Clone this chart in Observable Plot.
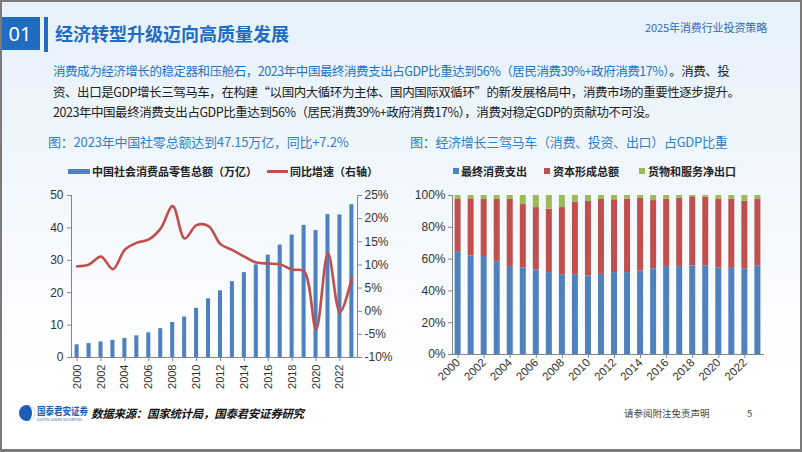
<!DOCTYPE html>
<html><head><meta charset="utf-8">
<script src="https://cdn.jsdelivr.net/npm/d3@7"></script>
<script src="https://cdn.jsdelivr.net/npm/@observablehq/plot@0.6"></script>
<style>
html,body{margin:0;padding:0;}
body{width:802px;height:452px;overflow:hidden;font-family:"Noto Sans CJK SC","Noto Sans",sans-serif;}
#slide{position:relative;width:802px;height:452px;overflow:hidden;background:linear-gradient(180deg,#e6f1fb 0%,#eef5fc 30%,#f8fbfe 60%,#ffffff 85%);}
.abs{position:absolute;white-space:nowrap;line-height:1;}
#frame{position:absolute;left:0;top:0;width:802px;height:452px;box-sizing:border-box;border:2px solid #7a7a7a;border-bottom-width:3px;pointer-events:none;}
.lg{font-size:11px;font-weight:bold;color:#222;}
.para{font-size:12.5px;color:#222;letter-spacing:-0.45px;}
#chart1,#chart2{position:absolute;}
#chart1 text,#chart2 text{font-family:"Liberation Sans",Arial,sans-serif;}
</style>
</head><body>
<div id="slide">
  <div class="abs" style="left:0;top:17px;width:40px;height:33px;background:#1f6cc1;color:#fff;font-size:20px;line-height:33px;text-align:center;font-family:'Noto Sans',sans-serif;">01</div>
  <div class="abs" style="left:44px;top:17px;width:4px;height:35px;background:#1f6cc1;"></div>
  <div class="abs" style="left:55px;top:24px;font-size:18px;font-weight:bold;color:#1f6cc1;">经济转型升级迈向高质量发展</div>
  <div class="abs" style="left:645px;top:22px;font-size:11px;color:#2f6db5;letter-spacing:-0.1px;">2025年消费行业投资策略</div>

  <div class="abs para" style="left:53px;top:65px;"><span style="color:#2274c6;">消费成为经济增长的稳定器和压舱石，2023年中国最终消费支出占GDP比重达到56%（居民消费39%+政府消费17%）</span>。消费、投</div>
  <div class="abs para" style="left:53px;top:86px;">资、出口是GDP增长三驾马车，在构建“以国内大循环为主体、国内国际双循环”的新发展格局中，消费市场的重要性逐步提升。</div>
  <div class="abs para" style="left:53px;top:106px;">2023年中国最终消费支出占GDP比重达到56%（居民消费39%+政府消费17%），消费对稳定GDP的贡献功不可没。</div>

  <div class="abs" style="left:48px;top:135px;font-size:13px;color:#2e82c9;letter-spacing:-0.2px;">图：2023年中国社零总额达到47.15万亿，同比+7.2%</div>
  <div class="abs" style="left:410px;top:135px;font-size:13px;color:#2e82c9;letter-spacing:-0.3px;">图：经济增长三驾马车（消费、投资、出口）占GDP比重</div>

  <div class="abs" style="left:68px;top:169px;width:22px;height:5px;background:#4f81bd;"></div>
  <div class="abs lg" style="left:92px;top:166px;">中国社会消费品零售总额（万亿）</div>
  <div class="abs" style="left:267px;top:170px;width:21px;height:2.5px;background:#c0504d;"></div>
  <div class="abs lg" style="left:290px;top:166px;">同比增速（右轴）</div>

  <div class="abs" style="left:453px;top:168px;width:6px;height:6px;background:#4f81bd;"></div>
  <div class="abs lg" style="left:461px;top:166px;">最终消费支出</div>
  <div class="abs" style="left:544px;top:168px;width:6px;height:6px;background:#c0504d;"></div>
  <div class="abs lg" style="left:553px;top:166px;">资本形成总额</div>
  <div class="abs" style="left:639px;top:168px;width:6px;height:6px;background:#9bbb59;"></div>
  <div class="abs lg" style="left:648px;top:166px;">货物和服务净出口</div>

  <div id="chart1" style="left:40px;top:185px;"></div>
  <div id="chart2" style="left:400px;top:185px;"></div>

  <svg class="abs" style="left:18px;top:404px;" width="18" height="18" viewBox="0 0 18 18">
    <circle cx="9" cy="9" r="8" fill="#1a5fb4"/>
    <path d="M9 1 A8 8 0 0 1 9 17 A5 8 0 0 0 9 1Z" fill="#ffffff"/>
  </svg>
  <div class="abs" style="left:37px;top:405px;font-size:8.5px;font-weight:bold;color:#1a5fb4;transform:scale(1,1.25);transform-origin:left top;">国泰君安证券</div>
  <div class="abs" style="left:37px;top:418px;font-size:3.5px;color:#1a5fb4;">GUOTAI JUNAN SECURITIES</div>
  <div class="abs" style="left:91px;top:408px;font-size:11.5px;font-weight:bold;font-style:italic;color:#111;letter-spacing:-0.3px;">数据来源：国家统计局，国泰君安证券研究</div>
  <div class="abs" style="left:624px;top:409px;font-size:9.5px;color:#444;">请参阅附注免责声明</div>
  <div class="abs" style="left:747px;top:409px;font-size:9.5px;color:#444;">5</div>
  <div id="frame"></div>
</div>
<script>
const years = ["2000","2001","2002","2003","2004","2005","2006","2007","2008","2009","2010","2011","2012","2013","2014","2015","2016","2017","2018","2019","2020","2021","2022","2023"];
const retailSales = [3.9,4.3,4.8,5.3,5.9,6.7,7.6,8.9,10.8,12.5,15.2,18.1,20.6,23.4,26.2,28.6,31.6,34.7,37.8,40.8,39.2,44.1,44.0,47.15];
const retailGrowth = [9.7,10.1,11.8,9.1,13.3,14.8,15.5,17.9,22.7,15.7,18.6,18.4,14.5,13.2,11.8,10.5,10.3,10.1,9.0,8.6,-3.9,12.5,-0.2,7.2];
const consumptionShare = [64.3,62.0,61.6,58.4,55.3,54.4,53.2,51.5,50.2,50.2,49.4,50.4,51.5,51.5,52.5,53.8,55.3,55.3,55.7,55.7,54.4,54.2,53.8,55.7];
const capitalShare = [33.2,35.9,35.9,39.1,42.2,39.9,39.2,39.9,42.2,45.6,46.8,47.1,45.8,46.2,45.6,43.0,42.4,43.0,43.5,43.3,43.1,43.5,42.6,42.2];
const netExportShare = [2.5,2.1,2.5,2.5,2.5,5.7,7.6,8.6,7.6,4.2,3.8,2.5,2.7,2.3,1.9,3.2,2.3,1.7,0.8,1.0,2.5,2.3,3.6,2.1];
const growthTicks = [-10,-5,0,5,10,15,20,25];
const shareSeries = ["最终消费支出","资本形成总额","货物和服务净出口"];
const shareColors = ["#4f81bd","#c0504d","#9bbb59"];
const evenYears = years.filter((d,i)=>i%2===0);

const toLeft = g => (g + 10) * 50 / 35;
const fromLeft = v => Math.round(v * 35 / 50 - 10);

const d1 = years.map((y,i)=>({year:y, sales:retailSales[i], growth:retailGrowth[i]}));
const axisColor = "#868686";

const c1 = Plot.plot({
  width: 360, height: 220,
  marginLeft: 31, marginRight: 43, marginTop: 10, marginBottom: 48,
  style: {background: "transparent", fontSize: "12px", color: "#333"},
  x: {type: "band", domain: years, paddingInner: 0.66, paddingOuter: 0.3, round: false},
  y: {domain: [0, 50]},
  marks: [
    Plot.barY(d1, {x: "year", y: "sales", fill: "#4f81bd"}),
    Plot.line(d1, {x: "year", y: d => toLeft(d.growth), stroke: "#c0504d", strokeWidth: 2.6, curve: "catmull-rom"}),
    Plot.axisY({anchor: "left", ticks: [0,10,20,30,40,50], tickSize: 4, tickPadding: 4, stroke: axisColor, fontSize: 12, label: null}),
    Plot.axisY({anchor: "right", ticks: growthTicks.map(toLeft), tickFormat: d => fromLeft(d) + "%", tickSize: 4, tickPadding: 3, stroke: axisColor, fontSize: 12, label: null}),
    Plot.axisX({ticks: evenYears, tickRotate: -90, tickSize: 4, tickPadding: 3, stroke: axisColor, fontSize: 11, label: null}),
    Plot.frame({anchor: "left", stroke: axisColor}),
    Plot.frame({anchor: "right", stroke: axisColor}),
    Plot.frame({anchor: "bottom", stroke: axisColor})
  ]
});
document.getElementById("chart1").appendChild(c1);

const d2 = [];
years.forEach((y,i)=>{
  d2.push({year:y, series:shareSeries[0], value:consumptionShare[i]});
  d2.push({year:y, series:shareSeries[1], value:capitalShare[i]});
  d2.push({year:y, series:shareSeries[2], value:netExportShare[i]});
});

const c2 = Plot.plot({
  width: 380, height: 220,
  marginLeft: 52, marginRight: 17, marginTop: 10, marginBottom: 51,
  style: {background: "transparent", fontSize: "12px", color: "#333"},
  x: {type: "band", domain: years, paddingInner: 0.54, paddingOuter: 0.2, round: false},
  y: {domain: [0, 100]},
  color: {domain: shareSeries, range: shareColors},
  marks: [
    Plot.barY(d2, {x: "year", y: "value", fill: "series", order: shareSeries}),
    Plot.axisY({ticks: [0,20,40,60,80,100], tickFormat: d => d + "%", tickSize: 4, tickPadding: 3, stroke: axisColor, fontSize: 12, label: null}),
    Plot.axisX({ticks: evenYears, tickRotate: -45, tickSize: 4, tickPadding: 2, stroke: axisColor, fontSize: 11.5, label: null}),
    Plot.frame({anchor: "left", stroke: axisColor}),
    Plot.frame({anchor: "bottom", stroke: axisColor})
  ]
});
document.getElementById("chart2").appendChild(c2);
</script>
</body></html>
